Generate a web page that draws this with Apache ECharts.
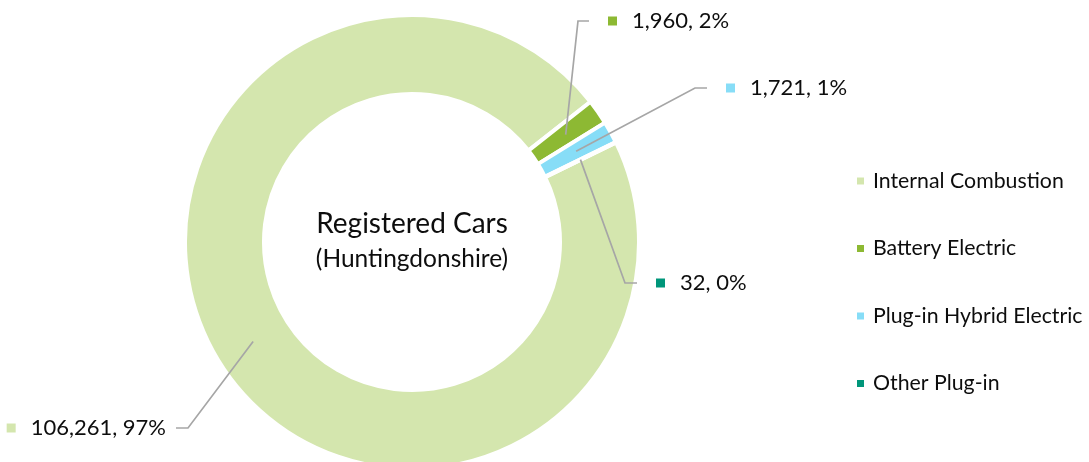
<!DOCTYPE html>
<html>
<head>
<meta charset="utf-8">
<script src="https://cdn.jsdelivr.net/npm/echarts@6/dist/echarts.min.js"></script>
<style>
  html, body { margin: 0; padding: 0; background: #fff; }
  #chart { width: 1089px; height: 462px; }
</style>
</head>
<body>
<div id="chart"></div>
<script>
// ---- data ----
const categories = ['Internal Combustion', 'Battery Electric', 'Plug-in Hybrid Electric', 'Other Plug-in'];
const values = [106261, 1960, 1721, 32];
const colors = ['#D4E6AE', '#8DB933', '#87DDF7', '#00967A'];
const centerTitle = 'Registered Cars';
const centerSubtitle = '(Huntingdonshire)';

// ---- layout ----
const FONT = 'Lato';
const CX = 412, CY = 242, R_IN = 148, R_OUT = 227;
const R_MID = (R_IN + R_OUT) / 2;
// label placement: [labelX, labelY, align, elbowX, elbowY, endX, endY]
const labelLayouts = [
  [166, 428, 'right', 188, 428, 176, 428],
  [608, 21, 'left', 578, 21, 589, 21],
  [726, 88, 'left', 695, 88, 707, 88],
  [656, 283, 'left', 625, 283, 637, 283]
];

const chart = echarts.init(document.getElementById('chart'), null, { renderer: 'canvas' });

const rich = { g: { width: 15, height: 9 }, t: { fontFamily: FONT, fontSize: 22, color: '#0d0d0d', lineHeight: 26 } };
colors.forEach((c, i) => { rich['m' + i] = { width: 9, height: 9, backgroundColor: c }; });

const data = categories.map((name, i) => ({ name: name, value: values[i] }));

const common = {
  type: 'pie',
  center: [CX, CY],
  radius: [R_IN, R_OUT],
  startAngle: 26,
  clockwise: true,
  avoidLabelOverlap: false,
  percentPrecision: 0,
  emphasis: { disabled: true },
  data: data
};

chart.setOption({
  animation: false,
  color: colors,
  legend: {
    orient: 'vertical',
    left: 850,
    top: 163,
    itemWidth: 9,
    itemHeight: 9,
    itemGap: 41.5,
    icon: 'rect',
    data: categories,
    textStyle: { fontFamily: FONT, fontSize: 21.3, color: '#0d0d0d', lineHeight: 26, padding: [0, 0, 0, 3] }
  },
  graphic: [
    { type: 'text', x: CX, y: 224, style: { text: centerTitle, font: '28px ' + FONT, fill: '#0d0d0d', textAlign: 'center', textVerticalAlign: 'middle' } },
    { type: 'text', x: CX, y: 259, style: { text: centerSubtitle, font: '24.5px ' + FONT, fill: '#0d0d0d', textAlign: 'center', textVerticalAlign: 'middle' } }
  ],
  series: [
    Object.assign({}, common, {
      name: 'slices',
      z: 2,
      itemStyle: { borderColor: '#ffffff', borderWidth: 4 },
      label: { show: false },
      labelLine: { show: false }
    }),
    Object.assign({}, common, {
      name: 'labels',
      z: 4,
      silent: true,
      legendHoverLink: false,
      itemStyle: { color: 'rgba(0,0,0,0)', borderWidth: 0 },
      label: {
        show: true,
        position: 'outside',
        formatter: p => '{m' + p.dataIndex + '|}{g|}{t|' + echarts.format.addCommas(p.value) + ', ' + p.percent + '%}',
        rich: rich
      },
      labelLine: { show: true, lineStyle: { color: '#A6A6A6', width: 1.7 } },
      labelLayout: function (params) {
        const L = labelLayouts[params.dataIndex];
        const p0 = params.labelLinePoints ? params.labelLinePoints[0] : [CX, CY];
        const dx = p0[0] - CX, dy = p0[1] - CY;
        const d = Math.sqrt(dx * dx + dy * dy) || 1;
        const anchor = [CX + dx / d * R_MID, CY + dy / d * R_MID];
        return {
          x: L[0], y: L[1], align: L[2], verticalAlign: 'middle',
          labelLinePoints: [anchor, [L[3], L[4]], [L[5], L[6]]]
        };
      }
    })
  ]
});
</script>
</body>
</html>
